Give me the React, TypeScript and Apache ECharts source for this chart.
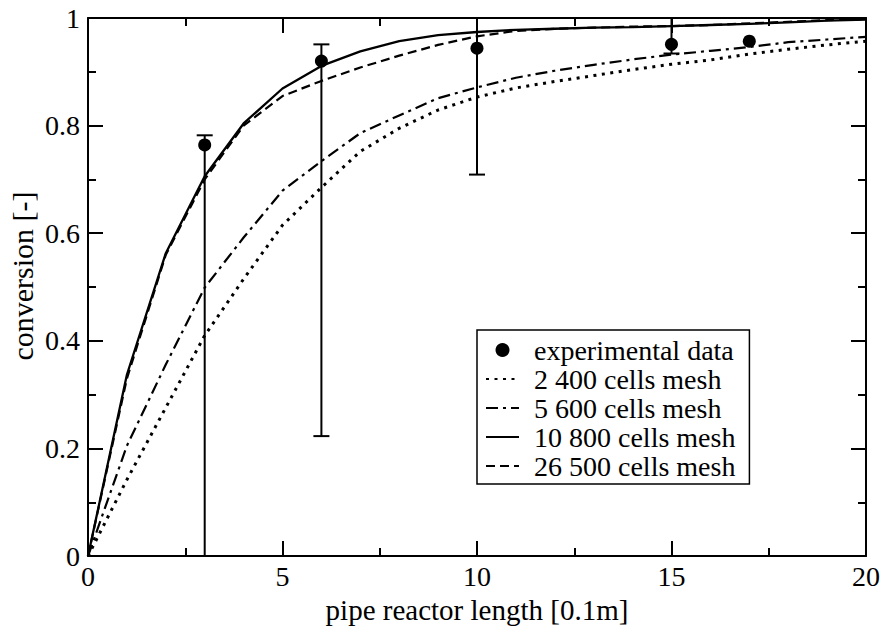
import React, { useEffect, useRef } from "react";
import * as echarts from "echarts";

const xPositions = [0, 1, 2, 3, 4, 5, 6, 7, 8, 9, 10, 11, 12, 13, 14, 15, 16, 17, 18, 19, 20];
const mesh2400 = [0, 0.142, 0.276, 0.41, 0.515, 0.615, 0.685, 0.752, 0.795, 0.829, 0.853, 0.87, 0.882, 0.893, 0.904, 0.914, 0.922, 0.933, 0.942, 0.95, 0.957];
const mesh5600 = [0, 0.205, 0.356, 0.499, 0.592, 0.679, 0.734, 0.786, 0.819, 0.851, 0.871, 0.889, 0.902, 0.913, 0.923, 0.932, 0.939, 0.946, 0.955, 0.96, 0.965];
const mesh10800 = [0, 0.337, 0.563, 0.706, 0.804, 0.869, 0.911, 0.938, 0.957, 0.968, 0.974, 0.978, 0.98, 0.982, 0.983, 0.985, 0.987, 0.989, 0.992, 0.995, 0.997];
const mesh26500 = [0, 0.33, 0.56, 0.7, 0.8, 0.855, 0.883, 0.908, 0.93, 0.95, 0.966, 0.976, 0.98, 0.982, 0.984, 0.985, 0.987, 0.99, 0.993, 0.996, 0.998];

const expX = [3, 6, 10, 15, 17];
const expY = [0.764, 0.92, 0.944, 0.951, 0.957];

const errX = [3, 6, 10, 15];
const errLow = [-0.05, 0.223, 0.709, 0.934];
const errHigh = [0.782, 0.951, 1.05, 1.05];

const seriesNames = ["experimental data", "2 400 cells mesh", "5 600 cells mesh", "10 800 cells mesh", "26 500 cells mesh"];
const xTitle = "pipe reactor length [0.1m]";
const yTitle = "conversion [-]";

const FONT = "Liberation Serif";

function pairs(ys: number[]) {
  return xPositions.map((x, i) => [x, ys[i]]);
}

export default function App() {
  const ref = useRef<HTMLDivElement>(null);
  useEffect(() => {
    if (!ref.current) return;
    const chart = echarts.init(ref.current, null, { renderer: "svg" });
    const axisCommon = {
      type: "value",
      axisLine: { show: true, onZero: false, lineStyle: { color: "#000", width: 2 } },
      axisTick: { show: true, inside: true, length: 15, lineStyle: { color: "#000", width: 2 } },
      minorTick: { show: true, splitNumber: 2, length: 8, lineStyle: { color: "#000", width: 2 } },
      splitLine: { show: false },
      minorSplitLine: { show: false },
    };
    const labelStyle = { fontSize: 28, fontFamily: FONT, color: "#000" };
    const option: any = {
      animation: false,
      backgroundColor: "#fff",
      textStyle: { fontFamily: FONT },
      grid: { left: 88, right: 16, top: 18, bottom: 65, containLabel: false },
      xAxis: [
        {
          ...axisCommon,
          position: "bottom",
          min: 0,
          max: 20,
          interval: 5,
          axisLabel: { ...labelStyle, margin: 6 },
          name: xTitle,
          nameLocation: "middle",
          nameGap: 33,
          nameTextStyle: { fontSize: 29, fontFamily: FONT, color: "#000" },
        },
        {
          ...axisCommon,
          position: "top",
          min: 0,
          max: 20,
          interval: 5,
          axisLabel: { show: false },
        },
      ],
      yAxis: [
        {
          ...axisCommon,
          position: "left",
          min: 0,
          max: 1,
          interval: 0.2,
          axisLabel: { ...labelStyle, margin: 8 },
        },
        {
          ...axisCommon,
          position: "right",
          min: 0,
          max: 1,
          interval: 0.2,
          axisLabel: { show: false },
        },
      ],
      legend: {
        data: seriesNames.map((n, i) => (i === 0 ? { name: n } : { name: n, itemStyle: { opacity: 0 } })),
        orient: "vertical",
        left: 477,
        top: 330,
        padding: [6, 14, 4, 8],
        itemGap: 1,
        itemWidth: 33,
        itemHeight: 14,
        borderColor: "#000",
        borderWidth: 1.5,
        backgroundColor: "#fff",
        textStyle: { fontSize: 28, fontFamily: FONT, color: "#000", padding: [0, 0, 0, 10] },
      },
      graphic: [
        {
          type: "text",
          x: 22,
          y: 276,
          rotation: Math.PI / 2,
          style: {
            text: yTitle,
            fontSize: 30,
            fontFamily: FONT,
            fill: "#000",
            textAlign: "center",
            textVerticalAlign: "middle",
          },
        },
      ],
      series: [
        {
          name: "error bars",
          type: "custom",
          xAxisIndex: 0,
          yAxisIndex: 0,
          data: errX.map((x, i) => [x, errLow[i], errHigh[i]]),
          encode: { x: 0, y: [1, 2] },
          z: 3,
          renderItem: (params: any, api: any) => {
            const x = api.value(0);
            const lo = api.value(1);
            const hi = api.value(2);
            const pLo = api.coord([x, lo]);
            const pHi = api.coord([x, hi]);
            const cs = params.coordSys;
            const top = cs.y;
            const bottom = cs.y + cs.height;
            const yLo = Math.min(bottom, Math.max(top, pLo[1]));
            const yHi = Math.min(bottom, Math.max(top, pHi[1]));
            const style = { stroke: "#000", lineWidth: 2 };
            const children: any[] = [
              { type: "line", shape: { x1: pLo[0], y1: yLo, x2: pHi[0], y2: yHi }, style },
            ];
            const half = 8;
            if (lo > 0 && lo < 1) {
              children.push({ type: "line", shape: { x1: pLo[0] - half, y1: yLo, x2: pLo[0] + half, y2: yLo }, style });
            }
            if (hi > 0 && hi < 1) {
              children.push({ type: "line", shape: { x1: pHi[0] - half, y1: yHi, x2: pHi[0] + half, y2: yHi }, style });
            }
            return { type: "group", children };
          },
        },
        {
          name: seriesNames[0],
          type: "scatter",
          data: expX.map((x, i) => [x, expY[i]]),
          symbol: "circle",
          symbolSize: 13,
          itemStyle: { color: "#000", opacity: 1 },
          z: 5,
        },
        {
          name: seriesNames[1],
          type: "line",
          data: pairs(mesh2400),
          showSymbol: false,
          symbol: "none",
          itemStyle: { color: "#000" },
          lineStyle: { color: "#000", width: 3, type: [3, 5.5] },
          z: 4,
        },
        {
          name: seriesNames[2],
          type: "line",
          data: pairs(mesh5600),
          showSymbol: false,
          symbol: "none",
          itemStyle: { color: "#000" },
          lineStyle: { color: "#000", width: 2.2, type: [12, 5, 3, 5] },
          z: 4,
        },
        {
          name: seriesNames[3],
          type: "line",
          data: pairs(mesh10800),
          showSymbol: false,
          symbol: "none",
          itemStyle: { color: "#000" },
          lineStyle: { color: "#000", width: 2.3, type: "solid" },
          z: 4,
        },
        {
          name: seriesNames[4],
          type: "line",
          data: pairs(mesh26500),
          showSymbol: false,
          symbol: "none",
          itemStyle: { color: "#000" },
          lineStyle: { color: "#000", width: 2.2, type: [9, 5] },
          z: 4,
        },
      ],
    };
    chart.setOption(option);
    return () => chart.dispose();
  }, []);
  return (
    <div
      ref={ref}
      style={{ position: "absolute", left: 0, top: 0, width: 883, height: 629, background: "#fff" }}
    />
  );
}
